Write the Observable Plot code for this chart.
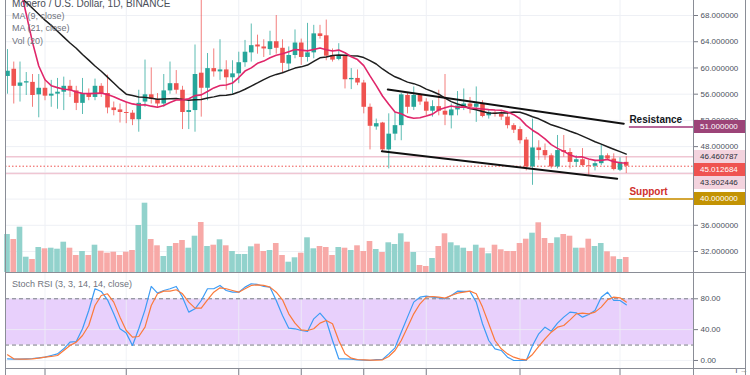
<!DOCTYPE html>
<html><head><meta charset="utf-8">
<script src="https://cdn.jsdelivr.net/npm/d3@7"></script>
<script src="https://cdn.jsdelivr.net/npm/@observablehq/plot@0.6"></script>
<style>
body{margin:0;background:#fff;}
#wrap{position:relative;width:750px;height:375px;overflow:hidden;font-family:"Liberation Sans",Arial,sans-serif;background:#fff;}
.layer{position:absolute;left:0;}
.vline,.hline{position:absolute;background:#8a8d96;}
.lbl{position:absolute;left:694px;width:51px;height:13px;line-height:13px;font-size:8px;padding-left:6px;box-sizing:border-box;}
.leg{position:absolute;left:12px;font-size:9px;color:#6f737d;white-space:nowrap;}
</style></head><body><div id="wrap"></div>
<script>
// ---- data ----
const opens  = [58.7,59.8,57.2,57.7,57.8,55.9,56.9,55.7,56.0,56.3,57.2,56.5,54.6,56.1,55.5,57.2,56.1,53.9,53.6,53.2,53.1,52.1,54.8,55.9,55.2,54.5,56.5,57.6,56.6,53.2,53.5,59.2,56.9,59.9,59.4,59.7,58.5,59.1,60.8,62.3,63.5,63.2,62.8,64.0,63.0,60.6,61.9,63.8,61.6,62.3,65.2,64.9,61.9,61.3,61.8,58.2,58.4,57.7,54.0,51.0,51.6,47.5,49.9,51.2,55.8,54.0,55.8,54.8,53.4,54.1,53.4,52.7,53.6,54.1,54.5,54.0,54.5,52.7,53.1,52.9,52.5,51.2,50.6,49.0,44.9,47.8,47.4,46.6,44.9,47.4,47.1,45.6,46.0,45.1,45.0,45.4,46.6,46.1,44.4,45.6];
const highs  = [62.8,60.9,60.9,59.3,59.0,59.0,58.3,58.1,58.4,58.6,58.1,57.2,58.4,56.8,58.3,57.6,58.9,54.8,54.5,54.8,53.5,56.6,61.2,60.0,56.1,59.0,60.9,59.6,57.2,55.0,63.5,71.5,62.2,62.9,64.3,61.1,61.1,62.4,64.2,66.7,65.0,64.3,65.6,68.0,64.3,63.2,65.8,64.4,66.8,66.5,66.5,67.3,62.9,63.7,61.9,59.9,59.7,58.1,54.5,52.2,51.7,53.0,53.2,56.1,56.1,57.1,56.1,55.3,55.0,56.6,59.0,54.5,56.4,56.8,55.5,57.1,55.0,53.5,53.5,53.5,53.2,51.5,51.0,49.4,52.2,48.9,48.4,46.9,49.7,49.7,47.7,46.6,47.7,45.9,45.9,48.2,46.9,46.9,46.3,46.460787];
const lows   = [56.0,54.5,54.8,55.8,54.0,52.4,55.0,54.0,53.7,53.5,55.5,53.5,52.9,55.0,55.0,55.5,53.0,52.7,51.6,51.5,51.2,50.2,54.0,54.5,54.0,54.0,56.0,56.0,50.6,50.6,50.2,52.5,55.0,58.6,58.1,56.6,56.0,57.6,60.1,60.9,62.1,61.6,61.9,62.1,59.2,59.6,61.4,60.4,60.9,61.4,64.4,61.1,60.9,61.1,56.8,56.7,57.3,53.0,47.5,50.5,47.1,44.6,48.9,48.9,53.0,53.5,54.3,52.7,52.5,52.7,51.2,50.7,52.7,53.5,53.0,51.7,52.4,52.2,52.5,52.0,50.7,50.0,48.4,44.3,42.1,45.9,45.9,44.6,44.6,46.4,44.6,44.9,44.9,43.6,44.3,45.1,45.9,44.3,44.2,43.902446];
const closes = [59.5,57.2,57.7,57.9,55.8,56.9,55.7,56.0,56.3,57.2,56.5,54.6,56.1,55.5,57.2,56.1,53.9,53.5,53.2,53.05,52.1,54.6,55.9,55.2,54.5,56.5,57.6,56.6,53.2,53.5,59.0,56.9,59.9,59.4,59.7,58.5,59.1,60.8,62.4,63.4,63.2,62.9,64.0,63.0,60.7,61.9,63.8,61.6,62.3,65.2,64.8,61.8,61.2,61.9,58.2,58.4,57.7,54.0,51.1,51.5,47.5,49.9,51.2,55.9,54.0,55.8,54.8,53.4,54.1,53.4,52.8,53.6,54.2,54.5,54.0,54.5,52.6,53.2,52.9,52.5,51.2,50.5,48.9,44.9,47.8,47.4,46.6,44.9,47.4,47.1,45.6,46.0,45.1,45.0,45.4,46.6,46.1,44.5,45.6,45.012684];
const volumes = [38,33,45.3,15.3,13,25,23.7,24.3,23.3,30.3,24.3,17,21,17,27.3,21.3,19.3,20.3,17,20.3,22,47,69.3,33,26.7,16,26,29,32,24.3,36.3,50,26,27.3,32.7,26.7,21,18,18,25.7,28.3,21,22,29,17,10.3,14.7,19.3,34.7,23.7,26,25,17,25,24.3,22,26.7,21,31,23,20,29.7,28,38.7,30.3,20,7,6,14,26,38.7,29.7,26.7,24.3,21,27.3,24.3,18.7,27.3,22.7,21,21,29,33.3,39.3,49.7,34,29,34.7,38,36.3,24.3,24.3,33.3,26,29,20.7,15.7,13,15];
const stochK = [2.2,1.7,1.7,2.2,2.6,3.5,4.3,6.5,8.6,15.1,23.8,24.6,41.1,64.8,93.0,89.5,78.7,60.5,41.1,35.5,19.5,41.1,65.7,96.0,87.3,90.8,93.0,96.0,82.1,62.7,67.0,77.8,93.0,93.0,97.3,90.8,88.6,88.6,95.1,99.5,
  98.6,96.0,95.1,77.8,58.4,41.9,41.1,38.9,37.6,54.0,61.4,51.9,25.9,2.2,2.2,1.7,0.9,0.4,0,1.3,1.3,8.6,16.4,36.7,56.2,75.7,82.1,83.4,82.1,81.3,80.0,84.3,89.9,89.5,89.5,75.7,47.6,25.9,15.1,13.0,4.3,0,0,0,19.5,34.6,43.2,38.0,48.4,56.2,62.7,61.8,56.2,59.7,64.8,82.1,88.6,77.8,77.8,72.2];
const stochD = [7.3,2.2,1.7,1.7,2.2,3.0,4.3,5.2,6.5,13.0,19.5,23.8,32.4,45.4,71.3,84.3,86.5,75.7,56.2,38.9,30.3,31.1,43.2,71.3,86.5,89.9,89.9,91.7,86.5,75.7,67.9,67.9,78.7,88.6,94.2,93.0,90.8,88.6,93.0,97.3,
  98.1,97.3,95.1,88.6,78.7,60.5,48.4,39.8,38.9,41.1,48.4,51.9,47.6,25.9,8.6,3.0,1.3,0.9,0.4,0.4,0.9,5.2,13.0,25.9,43.2,60.5,73.5,82.1,83.0,82.1,80.8,84.3,87.3,88.6,89.9,86.5,69.2,47.6,25.9,15.1,8.6,4.3,1.7,0.9,7.8,18.2,28.1,36.7,43.2,45.4,52.7,60.5,61.4,60.5,62.7,69.2,78.7,82.1,81.3,75.7];
// moving-average values on the first days (their windows start before the visible range)
const ma9Head  = [80.0,76.7,72.4,68.2,63.9,60.3,58.2,57.3];
const ma21Head = [72.6,71.7,70.8,70.0,69.1,68.2,67.3,66.5,65.6,64.7,63.8,63.0,62.05,61.2,60.3,59.5,58.6,57.7,56.8,56.0];
const priceGrid = [68,64,60,56,52,48,44,40,36,32];
const priceTickLabels = [68,64,60,56,52,48,36,32];   // 44 and 40 sit under the price tags
const rsiTicks = [80,40,0];
const dateTicks = [6,19,37,47,57,67,82,98];
const upperTrend = [{i:60.85,p:56.7},{i:98.6,p:51.5}];
const lowerTrend = [{i:59.9,p:47.3},{i:97.55,p:43.1}];
const levels = [{name:"Resistance",p:51,start:99.5,line:"#b8679a",box:"#9c4478",text:"#131722"},
                {name:"Support",p:40,start:99.5,line:"#d4a637",box:"#c39303",text:"#d0302c"}];
const lastHigh = 46.460787, lastClose = 45.012684, lastLow = 43.902446;
const legendLines = ["Monero / U.S. Dollar, 1D, BINANCE","MA (9, close)","MA (21, close)","Vol (20)"];

// ---- build ----
const UP="#26a69a", DOWN="#ef5350";
const candles = opens.map((o,i)=>({i, open:o, high:highs[i], low:lows[i], close:closes[i], vol:volumes[i], up: closes[i]>=o}));
function sma(k, head){ return closes.map((c,i)=>({i, v: i<k-1 ? head[i] : d3.mean(closes.slice(i-k+1,i+1))})); }
const ma9 = sma(9, ma9Head), ma21 = sma(21, ma21Head);
const rsiData = stochK.map((k,i)=>({i, k, d: stochD[i]}));
const X = {type:"linear", domain:[-0.32,109.76], axis:null};
const FONT = '"Liberation Sans", Arial, sans-serif';
const wrap = document.getElementById("wrap");
function place(el, top){ const d=document.createElement("div"); d.className="layer"; d.style.top=top+"px"; d.appendChild(el); wrap.appendChild(d); return d; }
const GRID="#eef0f5";
const fmt6 = d3.format(".6f");

const price = Plot.plot({
  width:750, height:272, marginLeft:5, marginRight:57, marginTop:0, marginBottom:0,
  x:X, y:{domain:[28.8,70.288], axis:null},
  style:{background:"transparent", fontFamily:FONT, fontSize:"8px", color:"#4c525e", overflow:"visible"},
  marks:[
    Plot.ruleY(priceGrid,{stroke:GRID}),
    Plot.ruleX(dateTicks,{stroke:GRID}),
    Plot.ruleY([lastHigh,lastLow],{stroke:"#f0c6d3", strokeWidth:1.4}),
    Plot.ruleY([lastClose],{stroke:DOWN, strokeDasharray:"1.5,2"}),
    Plot.ruleX(candles,{x:"i", y1:"low", y2:"high", stroke:d=>d.up?UP:DOWN, strokeOpacity:0.75, clip:true}),
    Plot.ruleX(candles,{x:"i", y1:"open", y2:"close", stroke:d=>d.up?UP:DOWN, strokeWidth:4.6}),
    Plot.line(ma21,{x:"i", y:"v", stroke:"#1e1e1e", strokeWidth:1.5, clip:true}),
    Plot.line(ma9,{x:"i", y:"v", stroke:"#e0266a", strokeWidth:1.6, clip:true}),
    Plot.line(upperTrend,{x:"i", y:"p", stroke:"#111", strokeWidth:2}),
    Plot.line(lowerTrend,{x:"i", y:"p", stroke:"#111", strokeWidth:2}),
    Plot.ruleY(levels,{y:"p", x1:"start", x2:()=>109.76, stroke:"line", strokeWidth:2}),
    Plot.text(levels,{x:"start", y:"p", text:"name", fill:"text", dy:-7, textAnchor:"start", fontWeight:"bold", fontSize:10}),
    Plot.axisY(priceGrid,{anchor:"right", tickFormat:d=>priceTickLabels.includes(d)?fmt6(d):"", tickSize:4, tickPadding:3, stroke:"#787b86", fill:"#4c525e", fontSize:8})
  ]
});
place(price,0);

const vol = Plot.plot({
  width:750, height:272, marginLeft:5, marginRight:57, marginTop:0, marginBottom:0,
  x:X, y:{domain:[0,272], axis:null},
  style:{background:"transparent"},
  marks:[ Plot.rectY(candles,{x1:d=>d.i-0.45, x2:d=>d.i+0.45, y:"vol", fill:d=>d.up?"#92d2cc":"#f7a9a7"}) ]
});
place(vol,0);

const rsi = Plot.plot({
  width:750, height:103, marginLeft:5, marginRight:57, marginTop:1, marginBottom:7,
  x:X, y:{domain:[-10.4,112.8], axis:null},
  style:{background:"transparent", fontFamily:FONT, fontSize:"8px", color:"#4c525e", overflow:"visible"},
  marks:[
    Plot.rect([{a:20,b:80}],{y1:"a", y2:"b", fill:"#e8d0fc"}),
    Plot.ruleY(rsiTicks,{stroke:GRID, strokeOpacity:0.8}),
    Plot.ruleX(dateTicks,{stroke:GRID, strokeOpacity:0.8}),
    Plot.ruleY([20,80],{stroke:"#787b86", strokeDasharray:"4,3"}),
    Plot.line(rsiData,{x:"i", y:"k", stroke:"#3d9cf5", strokeWidth:1.2}),
    Plot.line(rsiData,{x:"i", y:"d", stroke:"#fb7a3a", strokeWidth:1.2}),
    Plot.axisY(rsiTicks,{anchor:"right", tickFormat:d3.format(".2f"), tickSize:4, tickPadding:3, stroke:"#787b86", fill:"#4c525e", fontSize:8}),
    Plot.axisX(dateTicks,{anchor:"bottom", tickSize:7, tickFormat:()=>"", stroke:"#787b86"})
  ]
});
place(rsi,272);

// pane borders
function line(cls, css){ const d=document.createElement("div"); d.className=cls; Object.assign(d.style, css); wrap.appendChild(d); }
line("vline",{left:"5px",top:"0px",width:"1px",height:"375px"});
line("vline",{left:"693px",top:"0px",width:"1px",height:"375px"});
line("vline",{left:"745px",top:"0px",width:"1px",height:"375px"});
line("hline",{left:"5px",top:"272px",width:"741px",height:"1px"});
line("hline",{left:"5px",top:"368px",width:"741px",height:"1px"});

// legend
legendLines.forEach((t,k)=>{ const d=document.createElement("div"); d.className="leg"; d.textContent=t;
  d.style.top=(k===0?-2:9.7+(k-1)*12.7+1)+"px"; if(k===0){d.style.color="#4a4e58"; d.style.fontSize="10px";} wrap.appendChild(d); });
const rl=document.createElement("div"); rl.className="leg"; rl.textContent="Stoch RSI (3, 3, 14, 14, close)"; rl.style.top="279px"; wrap.appendChild(rl);

// price labels on the axis (pushed down when they overlap)
const ys = price.scale("y");
const tags = [
  {v:levels[0].p, bg:levels[0].box, fg:"#fff"},
  {v:lastHigh, bg:"#f3d3de", fg:"#2a2e39"},
  {v:lastClose, bg:DOWN, fg:"#fff"},
  {v:lastLow, bg:"#f3d3de", fg:"#2a2e39"},
  {v:levels[1].p, bg:levels[1].box, fg:"#fff"}
].map(t=>({...t, y: ys.apply(t.v)})).sort((a,b)=>a.y-b.y);
let prevBottom=-Infinity;
tags.forEach(t=>{ let top=Math.max(t.y-6.5, prevBottom); prevBottom=top+13;
  const d=document.createElement("div"); d.className="lbl"; d.style.top=top+"px"; d.style.background=t.bg; d.style.color=t.fg;
  d.textContent=fmt6(t.v); wrap.appendChild(d); });
</script></body></html>
